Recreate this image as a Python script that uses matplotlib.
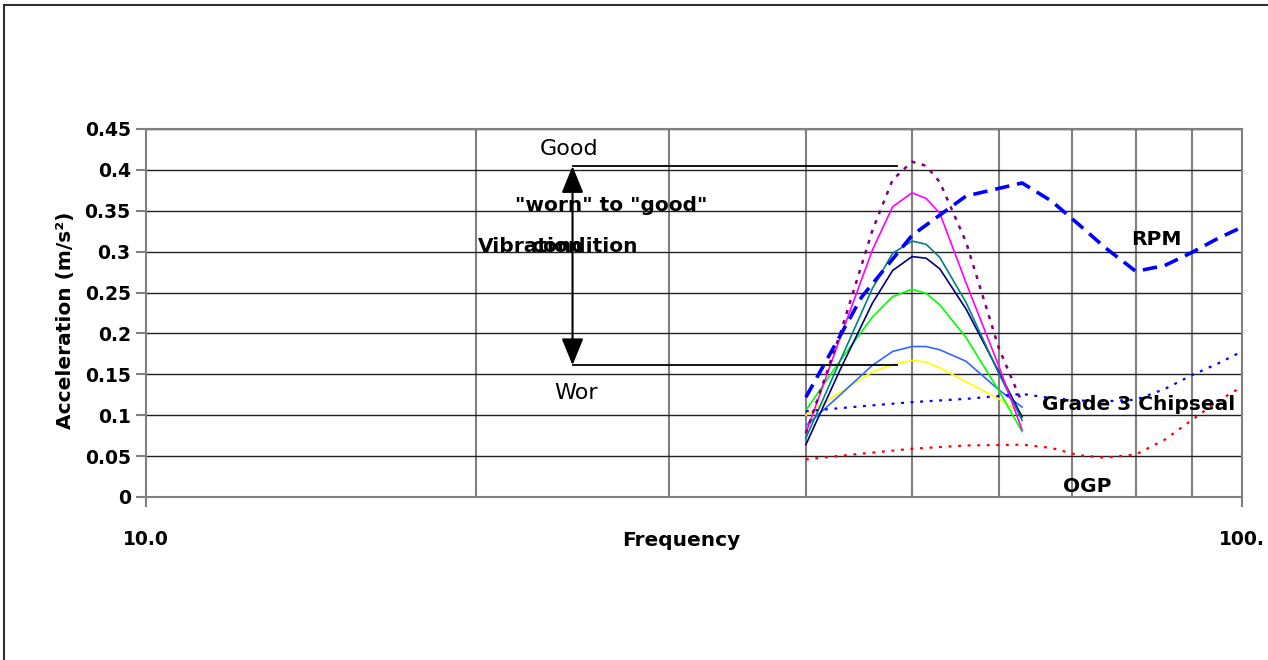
import numpy as np
import matplotlib
matplotlib.use('Agg')
import matplotlib.pyplot as plt
from matplotlib.patches import Rectangle
from matplotlib.ticker import FixedLocator, FixedFormatter, NullFormatter

plt.rcParams['font.family'] = ['DejaVu Sans']
plt.rcParams['font.weight'] = 'bold'
plt.rcParams['axes.labelweight'] = 'bold'

# third-octave band curves (40 - 63 Hz)
freq_band = [40, 43, 46, 48, 50, 51.5, 53, 56, 60, 63]
purple = [0.078, 0.200, 0.326, 0.388, 0.410, 0.405, 0.385, 0.312, 0.182, 0.115]
pink = [0.078, 0.195, 0.302, 0.355, 0.372, 0.365, 0.347, 0.262, 0.160, 0.082]
teal = [0.072, 0.167, 0.255, 0.298, 0.313, 0.309, 0.293, 0.238, 0.151, 0.094]
navy = [0.064, 0.156, 0.237, 0.277, 0.294, 0.292, 0.279, 0.230, 0.153, 0.098]
green = [0.106, 0.167, 0.220, 0.245, 0.254, 0.249, 0.235, 0.195, 0.130, 0.080]
ltblue = [0.087, 0.125, 0.161, 0.178, 0.184, 0.184, 0.180, 0.166, 0.131, 0.110]
yellow = [0.100, 0.128, 0.153, 0.162, 0.167, 0.165, 0.158, 0.141, 0.120, 0.102]

# wide range curves (40 - 100 Hz)
freq_wide = [40, 45, 50, 56, 63, 67, 71, 75, 80, 85, 90, 95, 100]
rpm = [0.122, 0.245, 0.320, 0.368, 0.384, 0.362, 0.333, 0.305, 0.276, 0.283, 0.299, 0.316, 0.330]
chipseal = [0.105, 0.111, 0.116, 0.120, 0.126, 0.121, 0.118, 0.117, 0.119, 0.132, 0.149, 0.163, 0.178]
ogp = [0.046, 0.053, 0.059, 0.063, 0.064, 0.060, 0.051, 0.048, 0.052, 0.070, 0.094, 0.117, 0.135]

yticks = [0, 0.05, 0.1, 0.15, 0.2, 0.25, 0.3, 0.35, 0.4, 0.45]
ytick_labels = ['0', '0.05', '0.1', '0.15', '0.2', '0.25', '0.3', '0.35', '0.4', '0.45']
xticks = [10, 100]
xtick_labels = ['10.0', '100.']

fig = plt.figure(figsize=(12.68, 6.60), dpi=100, facecolor='w')
ax = fig.add_axes([146/1268, 1 - 497/660, 1096/1268, 368/660])

ax.set_xscale('log')
ax.set_xlim(10, 100)
ax.set_ylim(0, 0.45)

ax.xaxis.set_major_locator(FixedLocator(xticks))
ax.xaxis.set_major_formatter(FixedFormatter(xtick_labels))
ax.xaxis.set_minor_locator(FixedLocator([20, 30, 40, 50, 60, 70, 80, 90]))
ax.xaxis.set_minor_formatter(NullFormatter())
ax.set_yticks(yticks)
ax.set_yticklabels(ytick_labels)

ax.grid(which='minor', axis='x', color='#808080', lw=1.5, zorder=0)
ax.grid(which='major', axis='y', color='#202020', lw=1.0, zorder=0)
ax.set_axisbelow(True)

ax.tick_params(axis='x', which='minor', length=0)
ax.tick_params(axis='x', which='major', length=7, width=1.5, color='#808080', pad=17, labelsize=13.5)
ax.tick_params(axis='y', length=7, width=1.5, color='#808080', pad=4, labelsize=13.5)
for s in ax.spines.values():
    s.set_color('#808080')
    s.set_linewidth(1.5)

# band curves
ax.plot(freq_band, yellow, color='#FFFF00', lw=1.2)
ax.plot(freq_band, ltblue, color='#3366FF', lw=1.2)
ax.plot(freq_band, green, color='#00FF00', lw=1.2)
ax.plot(freq_band, navy, color='#000080', lw=1.2)
ax.plot(freq_band, teal, color='#008080', lw=1.2)
ax.plot(freq_band, pink, color='#FF00FF', lw=1.2)
ax.plot(freq_band, purple, color='#800080', lw=1.8, linestyle=(0, (1.6, 2.6)))

# road surface / rpm curves
ax.plot(freq_wide, ogp, color='#FF0000', lw=1.6, linestyle=(0, (1.3, 3)))
ax.plot(freq_wide, chipseal, color='#0000FF', lw=1.6, linestyle=(0, (1.3, 3)))
ax.plot(freq_wide, rpm, color='#0000FF', lw=2.6, linestyle=(0, (4, 2.2)))

ax.text(83.5, 0.3083, 'RPM', fontsize=14.5, ha='center', va='baseline')
ax.text(65.7, 0.1062, 'Grade 3 Chipseal', fontsize=14.5, ha='left', va='baseline')
ax.text(72.3, 0.0061, 'OGP', fontsize=14.5, ha='center', va='baseline')

# worn / good range marker
good_level = 0.4045
worn_level = 0.1613
ax.plot([24.5, 48.4], [good_level, good_level], color='black', lw=1.3)
ax.plot([24.5, 48.4], [worn_level, worn_level], color='black', lw=1.3)
ax.annotate('', xy=(24.5, good_level), xytext=(24.5, worn_level),
            arrowprops=dict(arrowstyle='<|-|>,head_length=1.1,head_width=0.45',
                            mutation_scale=15, color='black', lw=1.5,
                            shrinkA=0, shrinkB=0))
ax.text(24.3, 0.4185, 'Good', fontsize=16, fontweight='normal', ha='center', va='baseline')
ax.text(24.7, 0.1193, 'Wor', fontsize=16, fontweight='normal', ha='center', va='baseline')
ax.text(26.6, 0.350, '"worn" to "good"', fontsize=14.5, ha='center', va='baseline')
ax.text(20.1, 0.299, 'Vibration', fontsize=14.5, ha='left', va='baseline')
ax.text(22.45, 0.299, 'condition', fontsize=14.5, ha='left', va='baseline')

ax.set_xlabel('Frequency', fontsize=14.5, fontweight='bold')
ax.xaxis.set_label_coords((681 - 146) / 1096, (497 - 531) / 368)
ax.set_ylabel('Acceleration (m/s²)', fontsize=14.5, fontweight='bold', va='center')
ax.yaxis.set_label_coords((65 - 146) / 1096, (497 - 320) / 368)

# outer chart frame, running off the right and bottom edges
fig.patches.append(Rectangle((4 / 1268, -0.1), 1.2, 1.1 - 5 / 660, transform=fig.transFigure,
                             fill=False, ec='#303030', lw=1.5))

fig.savefig('out.png', dpi=100)
